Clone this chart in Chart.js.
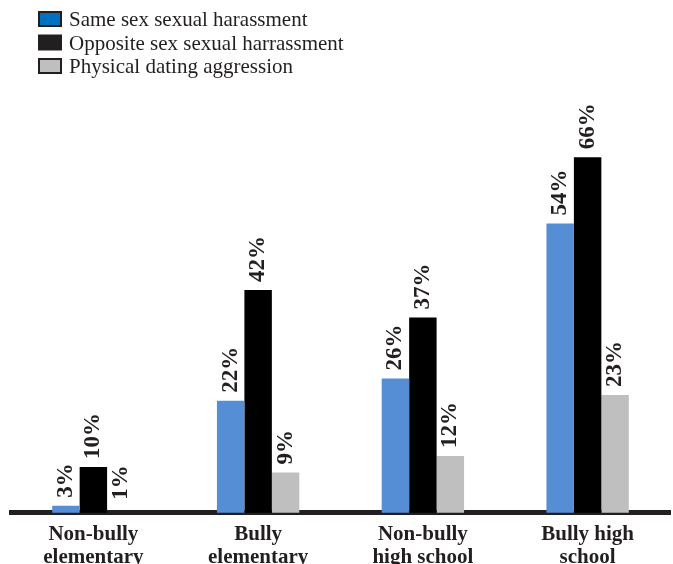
<!DOCTYPE html>
<html>
<head>
<meta charset="utf-8">
<title>Harassment and aggression by bully status</title>
<script src="https://cdn.jsdelivr.net/npm/chart.js@4.4.0/dist/chart.umd.min.js"></script>
<style>
  html, body { margin: 0; padding: 0; background: #fff; }
  #wrap { width: 673px; height: 564px; }
</style>
</head>
<body>
<div id="wrap"><canvas id="barChart" width="673" height="564"></canvas></div>
<script>
// values in percent, one array per series
const categories = [["Non-bully", "elementary"], ["Bully", "elementary"], ["Non-bully", "high school"], ["Bully high", "school"]];
const seriesNames = ["Same sex sexual harassment", "Opposite sex sexual harrassment", "Physical dating aggression"];
const sameSex = [3, 22, 26, 54];
const oppositeSex = [10, 42, 37, 66];
const datingAggression = [1, 9, 12, 23];

const barColors = ["#558ED5", "#000000", "#BFBFBF"];
const legendColors = ["#0070C0", "#231F20", "#BFBFBF"];
const ink = "#231F20";
const serif = "'Liberation Serif', 'Times New Roman', serif";

// rotated percentage above each bar
const valueLabels = {
  id: "valueLabels",
  afterDatasetsDraw(chart) {
    const ctx = chart.ctx;
    const bottom = chart.chartArea.bottom;
    ctx.save();
    ctx.fillStyle = ink;
    ctx.font = "bold 23px " + serif;
    ctx.textAlign = "left";
    ctx.textBaseline = "middle";
    chart.data.datasets.forEach((ds, i) => {
      chart.getDatasetMeta(i).data.forEach((bar, j) => {
        const top = Math.min(bar.y, bottom - 5);
        ctx.save();
        ctx.translate(bar.x, top - 8);
        ctx.rotate(-Math.PI / 2);
        ctx.fillText(ds.data[j] + "%", 0, 0);
        ctx.restore();
      });
    });
    ctx.restore();
  }
};

// stacked legend in the top left corner
const stackedLegend = {
  id: "stackedLegend",
  afterDraw(chart) {
    const ctx = chart.ctx;
    ctx.save();
    ctx.font = "21px " + serif;
    ctx.textBaseline = "alphabetic";
    ctx.lineWidth = 2;
    chart.data.datasets.forEach((ds, i) => {
      const y = 12 + i * 23.5;
      ctx.fillStyle = legendColors[i];
      ctx.fillRect(39, y, 22, 14);
      ctx.strokeStyle = ink;
      ctx.strokeRect(39, y, 22, 14);
      ctx.fillStyle = ink;
      ctx.fillText(ds.label, 69, y + 14);
    });
    ctx.restore();
  }
};

const ctx = document.getElementById("barChart").getContext("2d");
new Chart(ctx, {
  type: "bar",
  data: {
    labels: categories,
    datasets: [
      { label: seriesNames[0], data: sameSex, backgroundColor: barColors[0] },
      { label: seriesNames[1], data: oppositeSex, backgroundColor: barColors[1] },
      { label: seriesNames[2], data: datingAggression, backgroundColor: barColors[2] }
    ]
  },
  options: {
    responsive: false,
    animation: false,
    layout: { padding: { top: 135, left: 11, right: 3, bottom: 0 } },
    datasets: {
      bar: {
        barPercentage: 1,
        categoryPercentage: 0.5,
        borderWidth: 0,
        clip: { left: false, top: false, right: false, bottom: 0 }
      }
    },
    plugins: {
      legend: { display: false },
      tooltip: { enabled: false }
    },
    scales: {
      x: {
        grid: { display: false, drawTicks: false },
        border: { display: true, color: ink, width: 5 },
        ticks: {
          color: ink,
          font: { family: serif, size: 21, weight: "bold", lineHeight: 1.1 },
          padding: 10,
          maxRotation: 0,
          autoSkip: false
        },
        afterFit(scale) { scale.height = 51.3; }
      },
      y: {
        display: false,
        min: 1.75,
        max: 70
      }
    }
  },
  plugins: [valueLabels, stackedLegend]
});
</script>
</body>
</html>
